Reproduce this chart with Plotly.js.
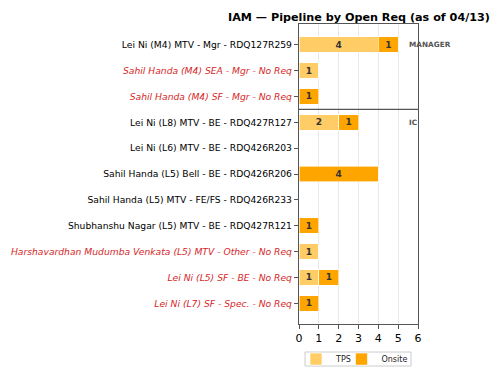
<!DOCTYPE html>
<html>
<head>
<meta charset="utf-8">
<script src="https://cdn.plot.ly/plotly-3.0.1.min.js"></script>
<style>html,body{margin:0;padding:0;background:#fff;}#chart{width:500px;height:378px;}</style>
</head>
<body>
<div id="chart"></div>
<script>
const labels = [
  "Lei Ni (M4) MTV - Mgr - RDQ127R259",
  "Sahil Handa (M4) SEA - Mgr - No Req",
  "Sahil Handa (M4) SF - Mgr - No Req",
  "Lei Ni (L8) MTV - BE - RDQ427R127",
  "Lei Ni (L6) MTV - BE - RDQ426R203",
  "Sahil Handa (L5) Bell - BE - RDQ426R206",
  "Sahil Handa (L5) MTV - FE/FS - RDQ426R233",
  "Shubhanshu Nagar (L5) MTV - BE - RDQ427R121",
  "Harshavardhan Mudumba Venkata (L5) MTV - Other - No Req",
  "Lei Ni (L5) SF - BE - No Req",
  "Lei Ni (L7) SF - Spec. - No Req"
];
const noReq = [false, true, true, false, false, false, false, false, true, true, true];
const tps    = [4, 1, 0, 2, 0, 0, 0, 0, 1, 1, 0];
const onsite = [1, 0, 1, 1, 0, 4, 0, 1, 0, 1, 1];
const groupLabels = ["MANAGER", "IC"];
const groupRows = [0, 3];

const idx = labels.map((_, i) => i);
const tickText = labels.map((l, i) => noReq[i] ? '<span style="color:#d62728"><i>' + l + '</i></span>' : l);
const txt = arr => arr.map(v => v > 0 ? '<b>' + v + '</b>' : '');

const traces = [
  {type: 'bar', orientation: 'h', name: 'TPS', y: idx, x: tps, width: 0.6, legend: 'legend', showlegend: true,
   marker: {color: '#FFCC66', line: {color: '#ffffff', width: 0.6}},
   text: txt(tps), textposition: 'inside', insidetextanchor: 'middle', textangle: 0,
   textfont: {family: 'DejaVu Sans', size: 9, color: '#333333'}, constraintext: 'none', hoverinfo: 'skip'},
  {type: 'bar', orientation: 'h', name: 'Onsite', y: idx, x: onsite, width: 0.6, legend: 'legend2', showlegend: true,
   marker: {color: '#FFA500', line: {color: '#ffffff', width: 0.6}},
   text: txt(onsite), textposition: 'inside', insidetextanchor: 'middle', textangle: 0,
   textfont: {family: 'DejaVu Sans', size: 9, color: '#333333'}, constraintext: 'none', hoverinfo: 'skip'}
];

const legendBase = {orientation: 'h', xref: 'container', xanchor: 'left', yref: 'container', y: 0.05, yanchor: 'middle',
                    bgcolor: 'rgba(0,0,0,0)', borderwidth: 0, font: {size: 8, color: '#222'}, itemwidth: 30, visible: true};

const layout = {
  width: 500, height: 378,
  margin: {l: 299, r: 82, t: 24, b: 54},
  barmode: 'stack',
  showlegend: true,
  paper_bgcolor: '#ffffff', plot_bgcolor: '#ffffff',
  font: {family: 'DejaVu Sans', color: '#000000'},
  title: {text: '<b>IAM — Pipeline by Open Req (as of 04/13)</b>', xref: 'container', x: 0.718, xanchor: 'center',
          yref: 'container', y: 0.955, yanchor: 'middle',
          font: {family: 'DejaVu Sans', size: 11.2, color: '#000'}},
  xaxis: {range: [0, 6], tickvals: [0,1,2,3,4,5,6], showgrid: true, gridcolor: '#e8e8e8', gridwidth: 1,
          zeroline: false, showline: true, mirror: true, linecolor: '#555555', linewidth: 1.2,
          ticks: 'outside', ticklen: 4, tickcolor: '#555555', tickfont: {size: 11, color: '#000'}},
  yaxis: {range: [10.8, -0.8], tickvals: idx, ticktext: tickText, showgrid: false, zeroline: false,
          showline: true, mirror: true, linecolor: '#555555', linewidth: 1.2,
          ticks: 'outside', ticklen: 4, tickcolor: '#555555', tickfont: {size: 9.2, color: '#000'}},
  legend: Object.assign({}, legendBase, {x: 0.592}),
  legend2: Object.assign({}, legendBase, {x: 0.683}),
  shapes: [
    {type: 'line', xref: 'paper', x0: 0, x1: 1, yref: 'y', y0: 2.5, y1: 2.5,
     line: {color: '#555555', width: 1.2}},
    {type: 'rect', xref: 'paper', yref: 'paper', x0: (305 - 299) / 119, x1: (411 - 299) / 119,
     y0: (324 - 352) / 300, y1: (324 - 366) / 300, line: {color: '#cccccc', width: 1}, fillcolor: 'rgba(0,0,0,0)'}
  ],
  annotations: groupLabels.map((g, i) => ({
    text: '<b>' + g + '</b>', x: 5.45, y: groupRows[i], xref: 'x', yref: 'y', xanchor: 'left', yanchor: 'middle',
    showarrow: false, font: {family: 'DejaVu Sans', size: 7.3, color: '#555555'}
  }))
};

Plotly.newPlot('chart', traces, layout, {displayModeBar: false, staticPlot: true});
</script>
</body>
</html>
